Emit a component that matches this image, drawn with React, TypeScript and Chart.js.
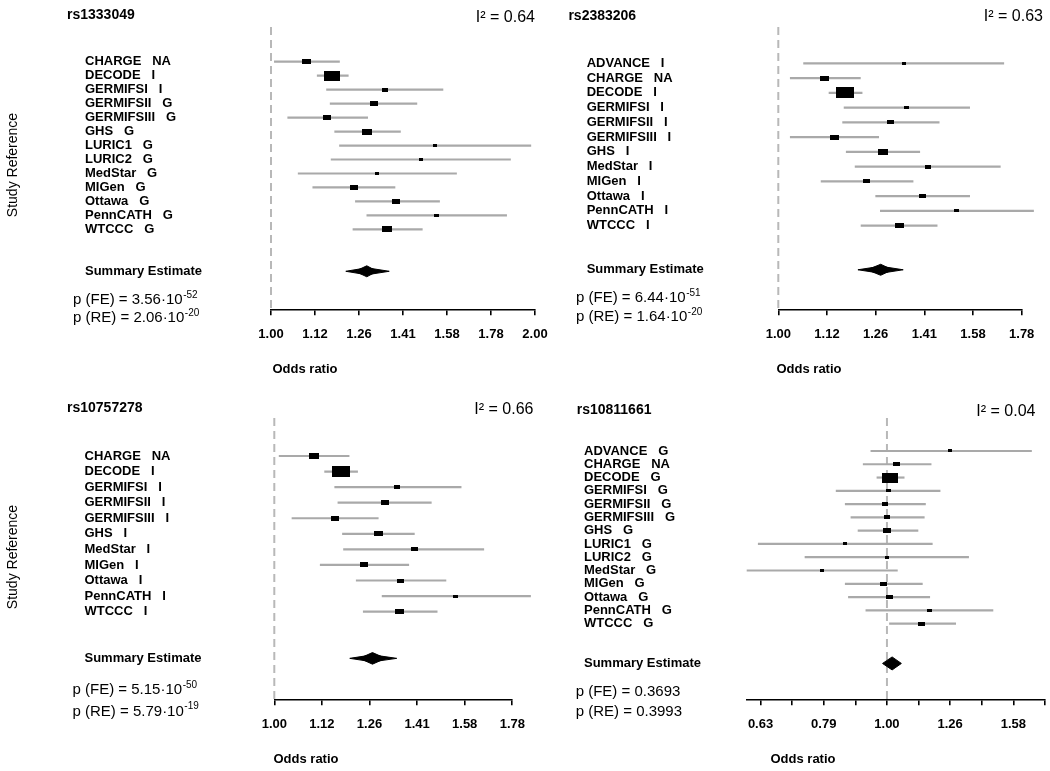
import React, { useEffect, useRef } from "react";
import { Chart, registerables } from "chart.js";

Chart.register(...registerables);

const FONT = "'Liberation Sans', Arial, Helvetica, sans-serif";

// ---------- Panel 1: rs1333049 ----------
const studies1 = ["CHARGE   NA", "DECODE   I", "GERMIFSI   I", "GERMIFSII   G", "GERMIFSIII   G", "GHS   G", "LURIC1   G", "LURIC2   G", "MedStar   G", "MIGen   G", "Ottawa   G", "PennCATH   G", "WTCCC   G"];
const or1 = [1.098, 1.175, 1.348, 1.309, 1.159, 1.286, 1.537, 1.482, 1.321, 1.245, 1.390, 1.544, 1.356];
const lo1 = [1.008, 1.128, 1.156, 1.167, 1.044, 1.181, 1.196, 1.170, 1.073, 1.115, 1.247, 1.285, 1.239];
const hi1 = [1.198, 1.226, 1.572, 1.468, 1.290, 1.406, 1.980, 1.877, 1.629, 1.386, 1.558, 1.858, 1.489];
const weight1 = [33, 100, 16, 22, 26, 36, 6, 5.5, 6, 24, 22, 11.5, 40];
const summaryRE1 = [1.217, 1.286, 1.364];
const summaryFE1 = [1.247, 1.286, 1.321];
const pValues1 = [["3.56", "-52"], ["2.06", "-20"]];

// ---------- Panel 2: rs2383206 ----------
const studies2 = ["ADVANCE   I", "CHARGE   NA", "DECODE   I", "GERMIFSI   I", "GERMIFSII   I", "GERMIFSIII   I", "GHS   I", "MedStar   I", "MIGen   I", "Ottawa   I", "PennCATH   I", "WTCCC   I"];
const or2 = [1.347, 1.116, 1.172, 1.355, 1.305, 1.143, 1.281, 1.426, 1.233, 1.408, 1.527, 1.333];
const lo2 = [1.061, 1.028, 1.127, 1.168, 1.164, 1.028, 1.174, 1.199, 1.106, 1.259, 1.273, 1.216];
const hi2 = [1.709, 1.216, 1.221, 1.576, 1.466, 1.270, 1.400, 1.695, 1.378, 1.576, 1.834, 1.459];
const weight2 = [4.8, 24.7, 100, 7.5, 15, 23, 27, 12, 15, 15, 8.7, 23];
const summaryRE2 = [1.208, 1.275, 1.345];
const summaryFE2 = [1.235, 1.275, 1.311];
const pValues2 = [["6.44", "-51"], ["1.64", "-20"]];

// ---------- Panel 3: rs10757278 ----------
const studies3 = ["CHARGE   NA", "DECODE   I", "GERMIFSI   I", "GERMIFSII   I", "GERMIFSIII   I", "GHS   I", "MedStar   I", "MIGen   I", "Ottawa   I", "PennCATH   I", "WTCCC   I"];
const or3 = [1.101, 1.175, 1.347, 1.308, 1.158, 1.287, 1.404, 1.243, 1.360, 1.553, 1.355];
const lo3 = [1.011, 1.129, 1.157, 1.166, 1.043, 1.179, 1.182, 1.117, 1.219, 1.298, 1.240];
const hi3 = [1.200, 1.225, 1.575, 1.465, 1.288, 1.406, 1.664, 1.387, 1.518, 1.864, 1.486];
const weight3 = [32, 100, 11.6, 17.4, 20.8, 26, 12.8, 20.8, 15.6, 7, 26];
const summaryRE3 = [1.201, 1.269, 1.346];
const summaryFE3 = [1.230, 1.269, 1.310];
const pValues3 = [["5.15", "-50"], ["5.79", "-19"]];

// ---------- Panel 4: rs10811661 ----------
const studies4 = ["ADVANCE   G", "CHARGE   NA", "DECODE   G", "GERMIFSI   G", "GERMIFSII   G", "GERMIFSIII   G", "GHS   G", "LURIC1   G", "LURIC2   G", "MedStar   G", "MIGen   G", "Ottawa   G", "PennCATH   G", "WTCCC   G"];
const or4 = [1.260, 1.036, 1.012, 1.004, 0.993, 1.001, 1.002, 0.858, 0.999, 0.790, 0.987, 1.008, 1.166, 1.135];
const lo4 = [0.942, 0.916, 0.963, 0.830, 0.858, 0.876, 0.899, 0.625, 0.741, 0.600, 0.858, 0.868, 0.925, 1.008];
const hi4 = [1.695, 1.176, 1.066, 1.215, 1.152, 1.147, 1.121, 1.181, 1.348, 1.040, 1.139, 1.170, 1.473, 1.286];
const weight4 = [5.2, 17.6, 100, 9.5, 13.7, 13.7, 27, 5.2, 7.4, 6.1, 18.7, 18.7, 9.5, 20.9];
const summary4 = [0.984, 1.019, 1.054];
const pValues4 = [["0.3693", ""], ["0.3993", ""]];

// ---------- Axis ticks ----------
const ticksLog2 = [1, 1.1225, 1.2599, 1.4142, 1.5874, 1.7818, 2];
const tickLabelsLog2 = ["1.00", "1.12", "1.26", "1.41", "1.58", "1.78", "2.00"];
const ticksLog2Short = [1, 1.1225, 1.2599, 1.4142, 1.5874, 1.7818];
const tickLabelsLog2Short = ["1.00", "1.12", "1.26", "1.41", "1.58", "1.78"];
const ticksLog10 = [0.631, 0.7079, 0.7943, 0.8913, 1, 1.122, 1.2589, 1.4125, 1.5849, 1.7783];
const tickLabelsLog10 = ["0.63", "", "0.79", "", "1.00", "", "1.26", "", "1.58", ""];

const panels = [
  {
    snp: "rs1333049", i2: "0.64", studies: studies1, or: or1, lo: lo1, hi: hi1, weight: weight1,
    outer: summaryRE1, inner: summaryFE1, p: pValues1,
    ticks: ticksLog2, tickLabels: tickLabelsLog2, xMin: 1, xMax: 2,
    L: { left: 271, right: 535, top: 27, bottom: 309.3, labelX: 85, yMin: -1.484, yMax: 18.72,
      titleX: 67, titleY: 15, i2X: 535, i2Y: 18, pX: 73, pY1: 300, pY2: 318, orX: 305, orY: 369,
      studyRef: [13, 165], boxMax: 16.2, outerH: 3.5, innerH: 5.5 },
  },
  {
    snp: "rs2383206", i2: "0.63", studies: studies2, or: or2, lo: lo2, hi: hi2, weight: weight2,
    outer: summaryRE2, inner: summaryFE2, p: pValues2,
    ticks: ticksLog2Short, tickLabels: tickLabelsLog2Short, xMin: 1, xMax: 1.7818,
    L: { left: 778.3, right: 1021.7, top: 27, bottom: 309.3, labelX: 586.7, yMin: -1.461, yMax: 17.68,
      titleX: 568.4, titleY: 16, i2X: 1043, i2Y: 17, pX: 576, pY1: 298, pY2: 317, orX: 809, orY: 369,
      studyRef: null, boxMax: 18.3, outerH: 3.5, innerH: 5.5 },
  },
  {
    snp: "rs10757278", i2: "0.66", studies: studies3, or: or3, lo: lo3, hi: hi3, weight: weight3,
    outer: summaryRE3, inner: summaryFE3, p: pValues3,
    ticks: ticksLog2Short, tickLabels: tickLabelsLog2Short, xMin: 1, xMax: 1.7818,
    L: { left: 274.3, right: 512.3, top: 418, bottom: 699.3, labelX: 84.5, yMin: -1.44, yMax: 16.63,
      titleX: 67, titleY: 408, i2X: 533.5, i2Y: 410, pX: 72.5, pY1: 690, pY2: 711.7, orX: 306, orY: 759,
      studyRef: [13, 557], boxMax: 18.2, outerH: 3.5, innerH: 5.8 },
  },
  {
    snp: "rs10811661", i2: "0.04", studies: studies4, or: or4, lo: lo4, hi: hi4, weight: weight4,
    outer: summary4, inner: null, p: pValues4,
    ticks: ticksLog10, tickLabels: tickLabelsLog10, xMin: 0.631, xMax: 1.7783,
    L: { left: 746.7, right: 1045, top: 418, bottom: 699.3, labelX: 584, yMin: -1.485, yMax: 19.7,
      titleX: 576.7, titleY: 410, i2X: 1035.5, i2Y: 411.5, pX: 575.7, pY1: 691.7, pY2: 712.3, orX: 803, orY: 759,
      studyRef: null, boxMax: 16.2, outerH: 6.5, innerH: 0 },
  },
];

function boxImage(w: number, h: number) {
  const c = document.createElement("canvas");
  c.width = w;
  c.height = h;
  const g = c.getContext("2d")!;
  g.fillStyle = "#000";
  g.fillRect(0, 0, w, h);
  return c;
}

function makeTextPlugin(panel: any) {
  const L = panel.L;
  return {
    id: "forestText",
    afterDraw(chart: any) {
      const ctx = chart.ctx;
      ctx.save();
      ctx.fillStyle = "#000";
      ctx.textBaseline = "middle";
      ctx.textAlign = "left";
      ctx.font = `bold 14px ${FONT}`;
      ctx.fillText(panel.snp, L.titleX, L.titleY);
      ctx.textAlign = "right";
      ctx.font = `16px ${FONT}`;
      ctx.fillText(`I² = ${panel.i2}`, L.i2X, L.i2Y);
      const names = ["p (FE) = ", "p (RE) = "];
      const ys = [L.pY1, L.pY2];
      names.forEach((nm, i) => {
        const [m, e] = panel.p[i];
        ctx.textAlign = "left";
        ctx.font = `15px ${FONT}`;
        const main = nm + m + (e ? "·10" : "");
        ctx.fillText(main, L.pX, ys[i]);
        if (e) {
          const w = ctx.measureText(main).width;
          ctx.font = `10px ${FONT}`;
          ctx.fillText(e, L.pX + w + 0.5, ys[i] - 5);
        }
      });
      ctx.textAlign = "center";
      ctx.font = `bold 13px ${FONT}`;
      ctx.fillText("Odds ratio", L.orX, L.orY);
      if (L.studyRef) {
        ctx.save();
        ctx.translate(L.studyRef[0], L.studyRef[1]);
        ctx.rotate(-Math.PI / 2);
        ctx.font = `14px ${FONT}`;
        ctx.textAlign = "center";
        ctx.fillText("Study Reference", 0, 0);
        ctx.restore();
      }
      ctx.restore();
    },
  };
}

function buildConfig(panel: any) {
  const L = panel.L;
  const n = panel.studies.length;
  const summaryRow = n + 3;
  const rows = [...panel.studies.map((_: string, i: number) => i + 1), summaryRow];
  const rowLabels = [...panel.studies, "Summary Estimate"];
  const pxPerRow = (L.bottom - L.top) / (L.yMax - L.yMin);

  const imgs = panel.weight.map((w: number) => {
    const bw = Math.max(3, Math.round(L.boxMax * Math.sqrt(w / 100)));
    const bh = Math.max(3, Math.round(bw * 0.6));
    return boxImage(bw, bh);
  });

  const datasets: any[] = [];
  // reference line at OR = 1 (drawn first, underneath)
  datasets.push({
    order: 3,
    data: [{ x: 1, y: L.yMin }, { x: 1, y: L.yMax }],
    showLine: true, borderColor: "#b8b8b8", borderWidth: 2, borderDash: [8, 5],
    pointRadius: 0, clip: false,
  });
  // confidence intervals
  panel.studies.forEach((_: string, i: number) => {
    datasets.push({
      order: 2,
      data: [{ x: panel.lo[i], y: i + 1 }, { x: panel.hi[i], y: i + 1 }],
      showLine: true, borderColor: "#a9a9a9", borderWidth: 2.2, pointRadius: 0, clip: false,
    });
  });
  // point estimates (boxes sized by weight)
  datasets.push({
    order: 1,
    data: panel.or.map((v: number, i: number) => ({ x: v, y: i + 1 })),
    showLine: false, pointStyle: (c: any) => imgs[c.dataIndex], pointRadius: 3, clip: false,
  });
  // summary diamonds: upper edge filled down to the lower edge (next dataset)
  const diamond = (s: number[], hPx: number) => {
    const h = hPx / pxPerRow;
    const common = { order: 0, showLine: true, backgroundColor: "#000", borderColor: "#000", borderWidth: 1, pointRadius: 0, clip: false };
    datasets.push({ ...common, fill: "+1", data: [{ x: s[0], y: summaryRow }, { x: s[1], y: summaryRow - h }, { x: s[2], y: summaryRow }] });
    datasets.push({ ...common, fill: false, data: [{ x: s[0], y: summaryRow }, { x: s[1], y: summaryRow + h }, { x: s[2], y: summaryRow }] });
  };
  diamond(panel.outer, L.outerH);
  if (panel.inner) diamond(panel.inner, L.innerH);

  const xAxisH = 771 - L.bottom;

  return {
    type: "scatter",
    data: { datasets },
    options: {
      animation: false,
      responsive: false,
      maintainAspectRatio: false,
      events: [],
      layout: { padding: { left: L.labelX, top: L.top, right: 1050 - L.right, bottom: 0 } },
      plugins: { legend: { display: false }, tooltip: { enabled: false } },
      scales: {
        x: {
          type: "logarithmic",
          min: panel.xMin,
          max: panel.xMax,
          afterBuildTicks: (s: any) => { s.ticks = panel.ticks.map((v: number) => ({ value: v })); },
          afterFit: (s: any) => { s.height = xAxisH; s.paddingLeft = 0; s.paddingRight = 0; },
          grid: { drawOnChartArea: false, drawTicks: true, tickLength: 6, color: "#000", lineWidth: 1.6 },
          border: { display: true, color: "#000", width: 1.6 },
          ticks: {
            callback: (_v: any, i: number) => panel.tickLabels[i],
            font: { family: FONT, size: 13, weight: "bold" },
            color: "#000", padding: 11, autoSkip: false, maxRotation: 0, minRotation: 0,
          },
        },
        y: {
          type: "linear",
          reverse: true,
          min: L.yMin,
          max: L.yMax,
          afterBuildTicks: (s: any) => { s.ticks = rows.map((v: number) => ({ value: v })); },
          afterFit: (s: any) => { s.width = L.left - L.labelX; s.paddingTop = 0; s.paddingBottom = 0; },
          grid: { display: false },
          border: { display: false },
          ticks: {
            callback: (_v: any, i: number) => rowLabels[i],
            crossAlign: "far",
            font: { family: FONT, size: 13, weight: "bold" },
            color: "#000", padding: 0, autoSkip: false,
          },
        },
      },
    },
    plugins: [makeTextPlugin(panel)],
  };
}

function ForestPanel({ panel }: { panel: any }) {
  const ref = useRef<HTMLCanvasElement | null>(null);
  useEffect(() => {
    if (!ref.current) return;
    const chart = new Chart(ref.current, buildConfig(panel) as any);
    return () => chart.destroy();
  }, [panel]);
  return (
    <canvas
      ref={ref}
      width={1050}
      height={771}
      style={{ position: "absolute", left: 0, top: 0, width: 1050, height: 771 }}
    />
  );
}

export default function App() {
  return (
    <div style={{ position: "absolute", left: 0, top: 0, width: 1050, height: 771, background: "#fff", overflow: "hidden" }}>
      {panels.map((p, i) => (
        <ForestPanel key={i} panel={p} />
      ))}
    </div>
  );
}
